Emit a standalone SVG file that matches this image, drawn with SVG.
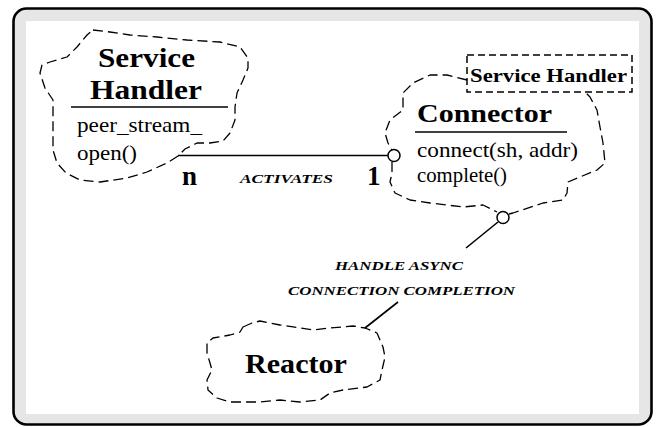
<svg xmlns="http://www.w3.org/2000/svg" width="657" height="427" viewBox="0 0 657 427">
<style>
.cloud{fill:none;stroke:#000;stroke-width:1.3;stroke-dasharray:10,5;stroke-linejoin:round;stroke-linecap:butt}
.title{font-family:"Liberation Serif","DejaVu Serif",serif;font-weight:bold;fill:#000}
.attr{font-family:"Liberation Serif","DejaVu Serif",serif;fill:#000}
.lbl{font-family:"Liberation Serif","DejaVu Serif",serif;font-weight:bold;font-style:italic;font-size:13px;fill:#000}
.conn{fill:none;stroke:#000;stroke-width:1.6}
.hole{fill:#fff;stroke:#000;stroke-width:1.5}
</style>
<rect x="13.5" y="8.5" width="638" height="416" rx="13" fill="#e6e6e6" stroke="#000" stroke-width="2.6"/>
<rect x="26" y="21" width="613" height="393" fill="#fff"/>

<g id="connectors">
<line class="conn" x1="178" y1="155.5" x2="388" y2="155.5"/>
<line class="conn" x1="498" y1="222" x2="466" y2="248"/>
<line class="conn" x1="398" y1="302" x2="365" y2="328"/>
<text class="lbl" x="240" y="183" textLength="93" lengthAdjust="spacingAndGlyphs">ACTIVATES</text>
<text class="title" x="182" y="185" font-size="27" textLength="15" lengthAdjust="spacingAndGlyphs">n</text>
<text class="title" x="367" y="185" font-size="27">1</text>
<text class="lbl" x="335" y="270" textLength="128" lengthAdjust="spacingAndGlyphs">HANDLE ASYNC</text>
<text class="lbl" x="288" y="295" textLength="227" lengthAdjust="spacingAndGlyphs">CONNECTION COMPLETION</text>
</g>

<g id="service-handler">
<path class="cloud" d="M93,30 L110,32 L130,35 L157,37 L187,40 L220,42 L240,47 L248,58 L248,68 L243,80 L237,93 L235,107 L235,120 L230,133 L223,141 L210,143 L197,143 L185,149 L178,156 L167,163 L147,172 L127,178 L100,182 L80,180 L66,173 L57,163 L53,150 L53,117 L53,100 L45,88 L40,73 L42,65 L50,62 L67,57 L77,47 L87,35 Z"/>
<text class="title" x="146.5" y="67" font-size="27" text-anchor="middle" textLength="97" lengthAdjust="spacingAndGlyphs">Service</text>
<text class="title" x="146" y="99" font-size="27" text-anchor="middle" textLength="112" lengthAdjust="spacingAndGlyphs">Handler</text>
<line x1="71" y1="107" x2="228" y2="107" stroke="#000" stroke-width="1.5"/>
<text class="attr" x="77" y="132" font-size="22" textLength="125" lengthAdjust="spacingAndGlyphs">peer_stream_</text>
<text class="attr" x="77" y="160" font-size="22" textLength="60" lengthAdjust="spacingAndGlyphs">open()</text>
</g>

<g id="connector">
<path class="cloud" d="M467,80 L455,77 L447,75 L430,75 L413,83 L403,93 L403,110 L390,120 L385,133 L388,143 L392,150 M392,162 L392,173 L390,182 L395,193 L410,200 L430,203 L463,207 L483,205 L497,212 M509,214 L513,213 L543,203 L563,200 L567,193 L568,182 L580,177 L597,170 L605,163 L603,143 L600,127 L597,110 L590,97 L585,92"/>
<circle class="hole" cx="394" cy="155.5" r="6"/>
<circle class="hole" cx="503" cy="217.5" r="6"/>
<rect x="467" y="55" width="165" height="37" fill="#fff" stroke="#000" stroke-width="1.5" stroke-dasharray="7,4"/>
<text class="title" x="470" y="82" font-size="18" textLength="157" lengthAdjust="spacingAndGlyphs">Service Handler</text>
<text class="title" x="417" y="122" font-size="26" textLength="135" lengthAdjust="spacingAndGlyphs">Connector</text>
<line x1="415" y1="132" x2="567" y2="132" stroke="#000" stroke-width="1.5"/>
<text class="attr" x="417" y="157" font-size="21" textLength="161" lengthAdjust="spacingAndGlyphs">connect(sh, addr)</text>
<text class="attr" x="417" y="182" font-size="21" textLength="90" lengthAdjust="spacingAndGlyphs">complete()</text>
</g>

<g id="reactor">
<path class="cloud" d="M243,327 L252,323 L260,321 L280,325 L313,330 L330,328 L353,326 L365,328 L377,333 L383,347 L385,357 L382,370 L380,380 L367,387 L343,390 L330,393 L320,400 L300,402 L280,400 L260,402 L230,402 L217,398 L208,390 L207,380 L212,370 L210,363 L207,353 L207,343 L213,338 L230,335 L240,332 Z"/>
<text class="title" x="245" y="373" font-size="27" textLength="102" lengthAdjust="spacingAndGlyphs">Reactor</text>
</g>
</svg>
